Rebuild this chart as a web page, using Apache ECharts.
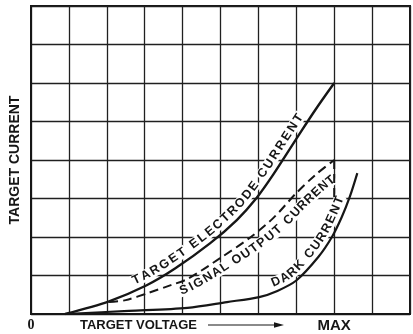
<!DOCTYPE html>
<html>
<head>
<meta charset="utf-8">
<script src="https://cdn.jsdelivr.net/npm/echarts@6/dist/echarts.min.js"></script>
<style>
  html, body { margin: 0; padding: 0; background: #ffffff; }
  #chart { width: 413px; height: 334px; }
</style>
</head>
<body>
<div id="chart"></div>
<script>
// Target voltage in grid divisions (0 .. MAX = 8), currents in grid divisions.
const electrodeV = [0.9, 2.06, 3.04, 3.8, 4.73, 5.43, 5.94, 6.39, 7.06, 7.5, 8.0];
const electrodeI = [0, 0.33, 0.74, 1.18, 1.84, 2.44, 3.0, 3.62, 4.64, 5.3, 6.0];

const signalV = [2.06, 2.5, 3.1, 3.69, 4.13, 4.99, 5.76, 6.39, 6.98, 7.5, 8.0];
const signalI = [0.31, 0.36, 0.55, 0.75, 0.91, 1.45, 1.97, 2.49, 3.12, 3.61, 4.0];

const signalDropV = [8.0, 8.0];
const signalDropI = [4.0, 3.0];

const darkV = [0.9, 2.58, 4.13, 5.17, 6.02, 6.5, 7.0, 7.58, 7.94, 8.2, 8.41, 8.61];
const darkI = [0, 0.08, 0.16, 0.31, 0.44, 0.6, 0.87, 1.48, 2.0, 2.52, 3.04, 3.66];

const xTickLabels = ['0', '', '', '', '', '', '', '', 'MAX', '', ''];

const curveNames = ['TARGET ELECTRODE CURRENT', 'SIGNAL OUTPUT CURRENT', 'DARK CURRENT'];

const INK = '#161616';
const LETTER_FONT = 'bold 12.5px "Liberation Sans", Arial, sans-serif';

const zip = (xs, ys) => xs.map((x, i) => [x, ys[i]]);
const electrode = zip(electrodeV, electrodeI);
const signal = zip(signalV, signalI);
const signalDrop = zip(signalDropV, signalDropI);
const dark = zip(darkV, darkI);

const chart = echarts.init(document.getElementById('chart'), null, { renderer: 'canvas' });

chart.setOption({
  animation: false,
  backgroundColor: '#ffffff',
  grid: {
    show: true, borderColor: INK, borderWidth: 2,
    left: 30.5, top: 6, width: 386, height: 308
  },
  xAxis: {
    type: 'value', min: 0, max: 10, interval: 1,
    axisLine: { show: true, lineStyle: { color: INK, width: 2 } },
    axisTick: { show: false },
    splitLine: { show: true, lineStyle: { color: '#202020', width: 1.3 } },
    axisLabel: {
      margin: 4,
      formatter: v => {
        const t = xTickLabels[Math.round(v)] || '';
        if (!t) return '';
        return v === 0 ? '{zero|' + t + '}' : '{max|' + t + '}';
      },
      rich: {
        zero: { fontFamily: '"Liberation Serif", serif', fontWeight: 'bold', fontSize: 14, color: INK },
        max: { fontFamily: '"Liberation Sans", Arial, sans-serif', fontWeight: 'bold', fontSize: 15, color: INK }
      }
    }
  },
  yAxis: {
    type: 'value', min: 0, max: 8, interval: 1,
    axisLine: { show: true, lineStyle: { color: INK, width: 2 } },
    axisTick: { show: false },
    axisLabel: { show: false },
    splitLine: { show: true, lineStyle: { color: '#202020', width: 1.3 } },
    name: 'TARGET CURRENT',
    nameLocation: 'middle',
    nameGap: 9,
    nameTextStyle: {
      fontFamily: '"Liberation Sans", Arial, sans-serif',
      fontWeight: 'bold', fontSize: 14, color: INK
    }
  },
  series: [
    {
      name: curveNames[0], type: 'line', data: electrode, smooth: 0.3,
      showSymbol: false, lineStyle: { color: INK, width: 2.4 }, z: 4
    },
    {
      name: curveNames[1], type: 'line', data: signal, smooth: 0.3,
      showSymbol: false, lineStyle: { color: INK, width: 2, type: [9, 5] }, z: 3
    },
    {
      name: curveNames[1] + ' drop', type: 'line', data: signalDrop,
      showSymbol: false, lineStyle: { color: INK, width: 2, type: [9, 5] }, z: 3
    },
    {
      name: curveNames[2], type: 'line', data: dark, smooth: 0.3,
      showSymbol: false, lineStyle: { color: INK, width: 2.2 }, z: 4
    }
  ]
});

// ---- lettering that follows each curve ----
const measureCtx = document.createElement('canvas').getContext('2d');
measureCtx.font = LETTER_FONT;

function catmullRom(pts, steps) {
  const out = [];
  for (let i = 0; i < pts.length - 1; i++) {
    const p0 = pts[Math.max(0, i - 1)], p1 = pts[i], p2 = pts[i + 1], p3 = pts[Math.min(pts.length - 1, i + 2)];
    for (let k = 0; k < steps; k++) {
      const t = k / steps, t2 = t * t, t3 = t2 * t;
      const f = (a, b, c, d) => 0.5 * ((2 * b) + (-a + c) * t + (2 * a - 5 * b + 4 * c - d) * t2 + (-a + 3 * b - 3 * c + d) * t3);
      out.push([f(p0[0], p1[0], p2[0], p3[0]), f(p0[1], p1[1], p2[1], p3[1])]);
    }
  }
  out.push(pts[pts.length - 1]);
  return out;
}

// Lays the characters of `text` along the curve between voltages fromV and toV,
// shifted sideways by an offset that goes from sideA to sideB (positive = upper-left).
// Each letter sits on a small white patch so the grid is broken around the lettering.
function letterCurve(data, text, fromV, toV, sideA, sideB) {
  const px = data.map(p => chart.convertToPixel({ gridIndex: 0 }, p));
  const dense = catmullRom(px, 16);
  const cum = [0];
  for (let i = 1; i < dense.length; i++) {
    cum.push(cum[i - 1] + Math.hypot(dense[i][0] - dense[i - 1][0], dense[i][1] - dense[i - 1][1]));
  }
  const arcAtX = x => {
    for (let i = 1; i < dense.length; i++) {
      if (dense[i][0] >= x) {
        const a = dense[i - 1], b = dense[i];
        const f = b[0] === a[0] ? 0 : (x - a[0]) / (b[0] - a[0]);
        return cum[i - 1] + f * (cum[i] - cum[i - 1]);
      }
    }
    return cum[cum.length - 1];
  };
  const at = s => {
    let i = 1;
    while (i < cum.length - 1 && cum[i] < s) i++;
    const a = dense[i - 1], b = dense[i];
    const len = cum[i] - cum[i - 1] || 1;
    const f = (s - cum[i - 1]) / len;
    return {
      x: a[0] + f * (b[0] - a[0]), y: a[1] + f * (b[1] - a[1]),
      tx: (b[0] - a[0]) / len, ty: (b[1] - a[1]) / len
    };
  };
  const x0 = chart.convertToPixel({ gridIndex: 0 }, [fromV, 0])[0];
  const x1 = chart.convertToPixel({ gridIndex: 0 }, [toV, 0])[0];
  const s0 = arcAtX(x0), s1 = arcAtX(x1);
  const chars = text.split('');
  const widths = chars.map(c => measureCtx.measureText(c).width);
  const total = widths.reduce((a, b) => a + b, 0);
  const gap = (s1 - s0 - total) / (chars.length - 1);
  const els = [];
  let s = s0;
  chars.forEach((c, i) => {
    const p = at(s + widths[i] / 2);
    const k = chars.length > 1 ? i / (chars.length - 1) : 0;
    const side = sideA + (sideB - sideA) * k;
    const nx = p.ty, ny = -p.tx;
    if (c !== ' ') {
      els.push({
        type: 'text', silent: true, z: 1,
        x: p.x + side * nx, y: p.y + side * ny,
        rotation: Math.atan2(-p.ty, p.tx),
        style: {
          text: c, font: LETTER_FONT, fill: INK,
          align: 'center', verticalAlign: 'middle',
          backgroundColor: '#ffffff', padding: [0, 1.5, -1, 1.5]
        }
      });
    }
    s += widths[i] + gap;
  });
  return els;
}

const graphics = [].concat(
  letterCurve(electrode, curveNames[0], 2.8, 7.32, 9.3, 9.3),
  letterCurve(signal, curveNames[1], 3.85, 7.75, -8.5, -14),
  letterCurve(dark, curveNames[2], 6.45, 8.38, 8.8, 8.8)
);

// x-axis title with its arrow
graphics.push(
  {
    type: 'text', silent: true, x: 80, y: 325,
    style: {
      text: 'TARGET VOLTAGE', font: 'bold 13px "Liberation Sans", Arial, sans-serif', fill: INK,
      align: 'left', verticalAlign: 'middle'
    }
  },
  {
    type: 'line', silent: true,
    shape: { x1: 208, y1: 325, x2: 276, y2: 325 },
    style: { stroke: INK, lineWidth: 1.2 }
  },
  {
    type: 'polygon', silent: true,
    shape: { points: [[284, 325], [274, 322.3], [274, 327.7]] },
    style: { fill: INK }
  }
);

chart.setOption({ graphic: graphics });
</script>
</body>
</html>
